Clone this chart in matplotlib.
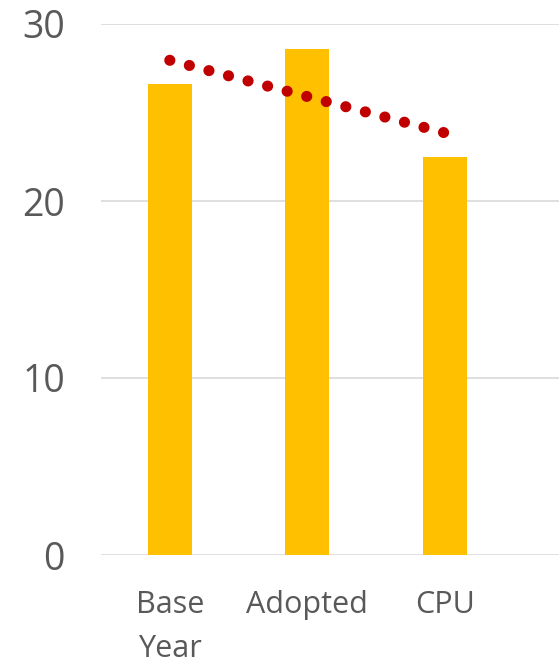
import matplotlib.pyplot as plt
import numpy as np

categories = ["Base\nYear", "Adopted", "CPU"]
values = [26.6, 28.6, 22.5]
y_ticks = [0, 10, 20, 30]

plt.rcParams['font.family'] = ['Open Sans', 'DejaVu Sans']

W, H, dpi = 559, 663, 100
fig = plt.figure(figsize=(W / dpi, H / dpi), dpi=dpi)
ax = fig.add_axes([101 / W, 1 - 555 / H, 1 - 101 / W, 531 / H])

x = np.arange(len(categories))
ax.bar(x, values, width=0.32, color="#FFC000", zorder=2)

# linear trendline over the bars
k, b = np.polyfit(x, values, 1)
ax.plot([x[0], x[-1]], [k * x[0] + b, k * x[-1] + b], color="#C00000",
        linewidth=8, linestyle=(0, (0.01, 1.81)), dash_capstyle="round", zorder=3)

ax.set_xlim(-0.5, 2.83)
ax.set_ylim(0, 30)
ax.set_yticks(y_ticks)
ax.set_xticks(x)
ax.set_xticklabels(categories, fontsize=22, color="#595959", linespacing=1.6)
ax.tick_params(axis="y", labelsize=27, labelcolor="#595959", length=0, pad=26)
ax.tick_params(axis="x", length=0, pad=25)
ax.grid(axis="y", color="#D9D9D9", linewidth=1.2, zorder=0)
ax.set_axisbelow(True)
for s in ax.spines.values():
    s.set_visible(False)

fig.savefig("out.png", dpi=dpi)
